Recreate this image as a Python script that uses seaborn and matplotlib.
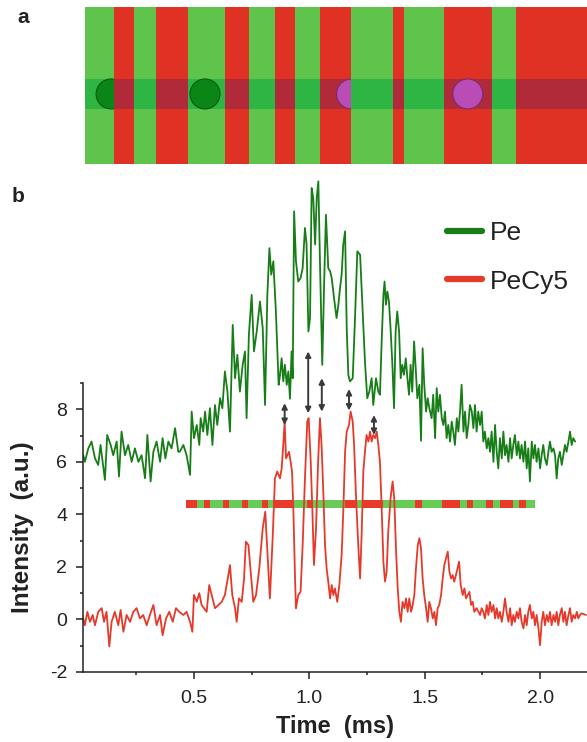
import numpy as np
import pandas as pd
import seaborn as sns
import matplotlib.pyplot as plt
from matplotlib.patches import Ellipse, Rectangle
from matplotlib.lines import Line2D

# ---------------- panel a: channel pattern (fraction of channel length) ----------------
chip_edges = [0.0, 0.058, 0.098, 0.142, 0.206, 0.278, 0.326, 0.378, 0.419,
              0.468, 0.529, 0.614, 0.636, 0.716, 0.810, 0.858, 1.0]
chip_first = 'green'
cell_x = [0.052, 0.239, 0.531, 0.7625]
cell_dye = ['Pe', 'Pe', 'PeCy5', 'PeCy5']
cell_cut = [0.058, None, 0.529, None]

# ---------------- panel b: traces ----------------
green_t = [0.020, 0.027, 0.042, 0.056, 0.071, 0.085, 0.095, 0.114, 0.124, 0.139,
           0.150, 0.165, 0.175, 0.186, 0.201, 0.215, 0.230, 0.244, 0.259, 0.273,
           0.288, 0.298, 0.312, 0.324, 0.338, 0.353, 0.364, 0.376, 0.389, 0.403,
           0.418, 0.432,
           0.439, 0.454, 0.468, 0.483, 0.490, 0.500, 0.512, 0.523, 0.529, 0.540,
           0.548, 0.558, 0.569, 0.580, 0.591, 0.601, 0.613, 0.623, 0.634, 0.645,
           0.656, 0.668, 0.678, 0.688, 0.699, 0.711, 0.721, 0.728, 0.738, 0.750,
           0.760, 0.772, 0.786, 0.798, 0.808, 0.818, 0.827, 0.835, 0.844, 0.855,
           0.867,
           0.873, 0.880, 0.887, 0.894, 0.902, 0.909, 0.916, 0.923, 0.928, 0.934,
           0.942, 0.952, 0.962, 0.971, 0.981, 0.988, 0.996, 1.003, 1.010, 1.017,
           1.025, 1.032, 1.039, 1.046, 1.056, 1.064, 1.072, 1.082, 1.090, 1.097,
           1.107, 1.118, 1.126, 1.133, 1.140, 1.147, 1.155, 1.162, 1.169, 1.176,
           1.188, 1.198, 1.208, 1.220, 1.231, 1.241, 1.251, 1.260, 1.270, 1.277,
           1.289, 1.299,
           1.306, 1.313, 1.321, 1.326, 1.332, 1.338, 1.345, 1.352, 1.360, 1.367,
           1.374, 1.381, 1.389, 1.396, 1.403, 1.410, 1.418, 1.425, 1.432, 1.439,
           1.446, 1.454, 1.461, 1.468, 1.477, 1.484, 1.491, 1.498, 1.506, 1.513,
           1.520, 1.530, 1.537, 1.545, 1.552, 1.559, 1.566, 1.574, 1.581, 1.588,
           1.595, 1.602, 1.610, 1.617, 1.624, 1.631, 1.639, 1.646, 1.653, 1.660,
           1.668, 1.675, 1.682, 1.689, 1.696, 1.704, 1.711, 1.718, 1.725, 1.732,
           1.740, 1.747, 1.754, 1.761, 1.769, 1.776, 1.783, 1.790, 1.798, 1.805,
           1.812, 1.819, 1.826, 1.834, 1.841, 1.848, 1.855, 1.863, 1.870, 1.877,
           1.884, 1.891, 1.899, 1.906, 1.913, 1.920, 1.928, 1.935, 1.942, 1.949,
           1.956, 1.964, 1.971, 1.978, 1.985, 1.993, 2.000, 2.007, 2.014, 2.021,
           2.029, 2.036, 2.043, 2.050, 2.058, 2.065, 2.072, 2.079, 2.086, 2.094,
           2.101, 2.108, 2.115, 2.123, 2.130, 2.137, 2.144, 2.152]
green_i = [6.25, 6.00, 6.51, 6.77, 6.13, 5.88, 6.64, 5.31, 7.02, 6.64,
           6.25, 6.77, 5.44, 7.15, 6.25, 6.64, 6.00, 6.51, 6.00, 6.25,
           5.37, 7.02, 5.25, 6.38, 6.77, 6.00, 6.90, 6.13, 6.77, 6.51,
           7.28, 6.38,
           6.39, 6.64, 6.25, 5.50, 7.91, 6.90, 7.40, 6.64, 7.66, 7.15,
           7.91, 7.02, 8.04, 6.64, 8.16, 7.40, 8.42, 8.04, 9.44, 8.67,
           7.15, 11.21, 9.18, 10.07, 8.67, 9.69, 10.20, 7.66, 10.83, 12.35,
           10.20, 10.96, 12.10, 11.08, 8.16, 12.35, 14.13, 13.12, 13.63, 11.72,
           8.93,
           9.31, 9.94, 9.06, 9.69, 8.93, 9.44, 8.40, 10.20, 9.18, 15.53,
           13.63, 12.86, 12.99, 13.37, 14.90, 14.27, 10.96, 11.47, 16.42, 16.04,
           14.27, 16.04, 16.67, 13.63, 9.69, 12.74, 15.40, 13.37, 13.25, 12.99,
           12.23, 11.47, 11.98, 12.61, 13.12, 14.27, 14.77, 11.08, 9.31, 9.06,
           9.18, 11.47, 14.01, 13.88, 11.72, 9.82, 8.42, 8.67, 9.18, 8.16,
           9.18, 8.67,
           8.55, 10.45, 12.35, 12.86, 11.98, 12.48, 12.10, 11.08, 9.69, 8.04,
           10.96, 11.72, 10.96, 9.18, 9.69, 9.31, 9.94, 9.18, 8.55, 9.69,
           8.67, 10.58, 9.56, 8.42, 8.93, 6.80, 10.32, 8.93, 7.91, 8.42,
           8.04, 7.66, 8.55, 6.90, 8.80, 7.91, 8.55, 7.66, 7.40, 7.91,
           6.90, 7.40, 6.77, 7.53, 7.15, 6.64, 7.66, 7.15, 7.91, 8.93,
           7.15, 7.91, 6.90, 7.40, 8.16, 7.91, 7.28, 8.16, 7.15, 7.91,
           7.40, 7.91, 6.77, 7.15, 6.51, 6.90, 6.38, 7.15, 6.00, 7.40,
           6.38, 5.75, 6.90, 6.13, 7.15, 6.25, 6.64, 6.00, 6.90, 6.13,
           6.64, 7.02, 6.25, 6.77, 6.13, 6.64, 6.00, 6.77, 5.75, 6.51,
           5.25, 6.77, 6.13, 6.64, 6.00, 6.51, 5.75, 6.25, 6.64, 6.13,
           5.88, 6.38, 6.77, 6.38, 6.51, 6.25, 5.37, 6.13, 6.38, 5.88,
           6.25, 6.64, 6.38, 6.77, 7.15, 6.64, 6.90, 6.77]

red_t = [0.020, 0.027, 0.038, 0.049, 0.061, 0.071, 0.085, 0.100, 0.110, 0.121,
         0.133, 0.143, 0.157, 0.172, 0.182, 0.194, 0.208, 0.223, 0.237, 0.251,
         0.266, 0.280, 0.295, 0.309, 0.324, 0.338, 0.353, 0.364, 0.379, 0.393,
         0.408, 0.422, 0.436,
         0.454, 0.468, 0.483, 0.493, 0.500, 0.512, 0.523, 0.533, 0.543, 0.555,
         0.566, 0.577, 0.591, 0.606, 0.620, 0.634, 0.649, 0.656, 0.666, 0.678,
         0.685, 0.695, 0.707, 0.717, 0.725, 0.736, 0.746, 0.757, 0.769, 0.783,
         0.798, 0.809, 0.819, 0.829, 0.841, 0.851, 0.861,
         0.873, 0.880, 0.887, 0.893, 0.899, 0.905, 0.912, 0.919, 0.925, 0.931,
         0.938, 0.942, 0.952, 0.962, 0.971, 0.981, 0.991, 0.997, 1.006, 1.013,
         1.020, 1.029, 1.038, 1.046, 1.053, 1.061, 1.068, 1.075, 1.082, 1.090,
         1.097, 1.104, 1.111, 1.121, 1.130, 1.140, 1.147, 1.155, 1.162, 1.172,
         1.179, 1.188, 1.194, 1.202, 1.212, 1.220, 1.227, 1.234, 1.241, 1.248,
         1.256, 1.263, 1.270, 1.277, 1.285, 1.292, 1.299,
         1.306, 1.313, 1.321, 1.328, 1.335, 1.342, 1.352, 1.361, 1.368, 1.376,
         1.383, 1.390, 1.397, 1.404, 1.412, 1.419, 1.426, 1.433, 1.441, 1.448,
         1.455, 1.462, 1.470, 1.477, 1.484, 1.491, 1.498, 1.506, 1.513, 1.520,
         1.527, 1.535, 1.542, 1.549, 1.556, 1.563, 1.571, 1.578, 1.585, 1.592,
         1.600, 1.607, 1.614, 1.621, 1.628, 1.639, 1.649, 1.656, 1.665, 1.672,
         1.679, 1.686, 1.694, 1.701, 1.708, 1.715, 1.725, 1.733,
         1.740, 1.747, 1.754, 1.761, 1.769, 1.776, 1.783, 1.790, 1.798, 1.805,
         1.812, 1.819, 1.826, 1.834, 1.841, 1.848, 1.855, 1.863, 1.870, 1.877,
         1.884, 1.891, 1.899, 1.906, 1.913, 1.920, 1.928, 1.935, 1.942, 1.949,
         1.956, 1.964, 1.971, 1.978, 1.985, 1.993, 2.000, 2.007, 2.014, 2.021,
         2.029, 2.036, 2.043, 2.050, 2.058, 2.065, 2.072, 2.079, 2.086, 2.094,
         2.101, 2.108, 2.115, 2.123, 2.130, 2.137, 2.144, 2.152, 2.159, 2.166,
         2.173, 2.180, 2.199]
red_i = [0.04, -0.22, 0.29, -0.09, 0.17, -0.22, 0.29, 0.43, -0.09, 0.29,
         -1.03, -0.09, 0.29, -0.22, 0.36, -0.47, 0.17, -0.09, 0.29, 0.43,
         0.04, 0.17, -0.22, 0.17, 0.55, -0.22, 0.17, -0.60, 0.04, 0.29,
         -0.09, 0.43, 0.29,
         0.17, 0.29, -0.09, -0.47, 0.93, 0.67, 1.00, 0.55, 0.43, 0.29,
         1.31, 0.93, 0.43, 0.55, 0.67, 0.93, 1.69, 2.07, 0.93, 0.43,
         -0.09, 0.80, 0.67, 1.56, 2.96, 2.83, 1.82, 0.67, 0.93, 1.94,
         3.47, 4.10, 2.45, 0.80, 3.09, 5.37, 5.63,
         5.37, 5.75, 6.64, 7.53, 6.13, 6.25, 6.38, 6.00, 5.63, 4.10,
         1.56, 0.42, 0.93, 1.05, 2.83, 5.37, 7.53, 7.66, 6.00, 4.20,
         2.07, 3.47, 6.00, 7.66, 6.64, 4.74, 2.83, 1.94, 1.44, 0.80,
         1.31, 0.93, 1.18, 0.67, 1.31, 2.45, 4.10, 6.39, 7.15, 7.40,
         7.91, 7.53, 6.64, 4.74, 2.83, 1.56, 3.34, 5.63, 6.38, 7.02,
         6.77, 7.15, 6.77, 7.02, 6.90, 7.15, 6.64,
         6.00, 4.35, 2.20, 1.44, 1.82, 3.34, 4.61, 5.25, 4.61, 2.58,
         1.18, 0.29, -0.09, 0.67, 0.43, 0.80, 0.29, 0.80, 0.29, 0.55,
         0.93, 1.94, 2.83, 3.09, 2.70, 1.56, 0.93, 0.43, -0.09, 0.67,
         0.43, 0.04, 0.29, -0.22, 0.43, 0.55, 0.93, 1.56, 2.07, 2.32,
         2.58, 1.82, 1.56, 1.69, 1.44, 1.82, 2.20, 1.31, 0.93, 1.18,
         0.80, 0.93, 1.05, 0.55, 0.67, 0.29, 0.43, 0.29,
         0.17, 0.43, 0.29, 0.04, 0.55, 0.17, 0.67, 0.29, 0.55, 0.04,
         0.43, 0.04, 0.29, -0.09, 0.29, 0.80, 0.29, -0.09, 0.43, -0.22,
         0.17, -0.09, 0.29, 0.04, 0.43, -0.09, -0.34, 0.17, -0.22, 0.29,
         0.55, 0.04, 0.29, -0.22, 0.17, -0.34, -0.98, -0.09, 0.29, -0.22,
         0.17, -0.09, 0.29, -0.22, 0.17, -0.09, 0.29, -0.22, 0.17, 0.43,
         -0.09, 0.29, -0.22, 0.17, 0.43, -0.09, 0.17, 0.04, 0.29, 0.04,
         0.17, 0.23, 0.17]

# striped timing bar (starts red, alternates)
bar_edges = [0.465, 0.513, 0.543, 0.569, 0.626, 0.652, 0.708, 0.736, 0.793, 0.821,
             0.844, 0.929, 0.989, 1.017, 1.155, 1.207, 1.234, 1.321, 1.458, 1.487,
             1.574, 1.653, 1.683, 1.711, 1.766, 1.797, 1.826, 1.884, 1.910, 1.939,
             1.976]
bar_level = 4.4

# double arrows: green dip -> red peak
arrow_t = [0.893, 0.995, 1.054, 1.172, 1.280]
arrow_top = [8.23, 10.20, 9.18, 8.77, 7.78]
arrow_bot = [7.40, 7.85, 7.91, 7.95, 7.02]

# colours
light_green = '#5fc44c'
stripe_red = '#df3224'
band_green = '#2fb544'
band_red = '#b12a3a'
pe_col = '#177d17'
cy5_col = '#e53a2a'
bar_green = '#66cc55'
bar_red = '#e8392a'
ink = '#222222'

sns.set_style('ticks')
plt.rcParams['font.family'] = ['Liberation Sans', 'DejaVu Sans']
plt.rcParams['axes.unicode_minus'] = False

W, H = 587, 742
fig = plt.figure(figsize=(W / 100, H / 100), dpi=100)

# ===================== panel a =====================
ax_a = fig.add_axes([85 / W, 1 - 164.3 / H, 502 / W, 157 / H])
band_lo, band_hi = 0.354, 0.543
for k in range(len(chip_edges) - 1):
    x0, x1 = chip_edges[k], chip_edges[k + 1]
    is_green = (k % 2 == 0) == (chip_first == 'green')
    ax_a.axvspan(x0, x1, color=light_green if is_green else stripe_red, lw=0, zorder=1)
    ax_a.fill_between([x0, x1], band_lo, band_hi,
                      color=band_green if is_green else band_red, lw=0, zorder=2)

for cx, dye, cut in zip(cell_x, cell_dye, cell_cut):
    face = '#0b8616' if dye == 'Pe' else '#ba4cb6'
    edge = '#0a5a10' if dye == 'Pe' else '#7a2a6e'
    e = Ellipse((cx, 0.448), width=30 / 502, height=30 / 157,
                facecolor=face, edgecolor=edge, lw=0.8, zorder=3)
    ax_a.add_patch(e)
    if cut is not None:
        e.set_clip_path(Rectangle((0, 0), cut, 1, transform=ax_a.transData))
ax_a.set_xlim(0, 1)
ax_a.set_ylim(0, 1)
ax_a.axis('off')

# ===================== panel b =====================
x_lo, x_hi = 0.019, 2.203
y_lo, y_hi = -2, 17
ax = fig.add_axes([83 / W, 1 - 672 / H, (586.9 - 83) / W, (672 - 172.75) / H])

segs = [(bar_edges[k], bar_edges[k + 1] - bar_edges[k]) for k in range(len(bar_edges) - 1)]
ax.broken_barh(segs, (bar_level - 0.14, 0.28),
               facecolors=[bar_red if k % 2 == 0 else bar_green for k in range(len(segs))],
               lw=0, zorder=1)

df = pd.DataFrame({
    't': green_t + red_t,
    'I': green_i + red_i,
    'ch': ['Pe'] * len(green_t) + ['PeCy5'] * len(red_t),
})
sns.lineplot(data=df, x='t', y='I', hue='ch', palette={'Pe': pe_col, 'PeCy5': cy5_col},
             estimator=None, lw=1.3, legend=False, ax=ax, zorder=2)

for t, top, bot in zip(arrow_t, arrow_top, arrow_bot):
    ax.annotate('', xy=(t, top), xytext=(t, bot),
                arrowprops=dict(arrowstyle='<|-|>', color='#3a3a3a', lw=1.4,
                                mutation_scale=8, shrinkA=0, shrinkB=0), zorder=4)

ax.set_xlim(x_lo, x_hi)
ax.set_ylim(y_lo, y_hi)
sns.despine(ax=ax)
ax.spines['left'].set_bounds(-2, 9)
for s in ['left', 'bottom']:
    ax.spines[s].set_linewidth(1.1)
    ax.spines[s].set_color(ink)

ax.set_yticks([-2, 0, 2, 4, 6, 8])
ax.set_yticks([-1, 1, 3, 5, 7, 9], minor=True)
ax.set_xticks([0.5, 1.0, 1.5, 2.0])
ax.set_xticklabels(['0.5', '1.0', '1.5', '2.0'])
ax.set_xticks([0.25, 0.75, 1.25, 1.75], minor=True)
ax.tick_params(which='major', length=5, width=1.1, color=ink, labelcolor=ink,
               labelsize=14, direction='out')
ax.tick_params(which='minor', length=2.5, width=1.1, color=ink, direction='out')
ax.tick_params(axis='y', which='major', pad=6.5)
ax.tick_params(axis='x', which='major', pad=8)

ax.set_xlabel('Time  (ms)', fontsize=17, fontweight='bold', color=ink, labelpad=6)
ax.set_ylabel('Intensity  (a.u.)', fontsize=17.5, fontweight='bold', color=ink)
ax.yaxis.set_label_coords(-0.097, (3.5 - y_lo) / (y_hi - y_lo))

handles = [Line2D([], [], color=pe_col, lw=4.5), Line2D([], [], color=cy5_col, lw=4.5)]
fig.legend(handles, ['Pe', 'PeCy5'], loc='upper left',
           bbox_to_anchor=(446.7 / W, 1 - 221 / H), bbox_transform=fig.transFigure,
           frameon=False, fontsize=19, handlelength=1.33, handletextpad=0.31,
           labelspacing=0.93, borderpad=0, borderaxespad=0, labelcolor=ink)

fig.text(17 / W, 1 - 23 / H, 'a', fontsize=15, fontweight='bold', color=ink, va='baseline')
fig.text(12 / W, 1 - 202 / H, 'b', fontsize=15, fontweight='bold', color=ink, va='baseline')

fig.savefig('out.png', dpi=100)
plt.close(fig)
